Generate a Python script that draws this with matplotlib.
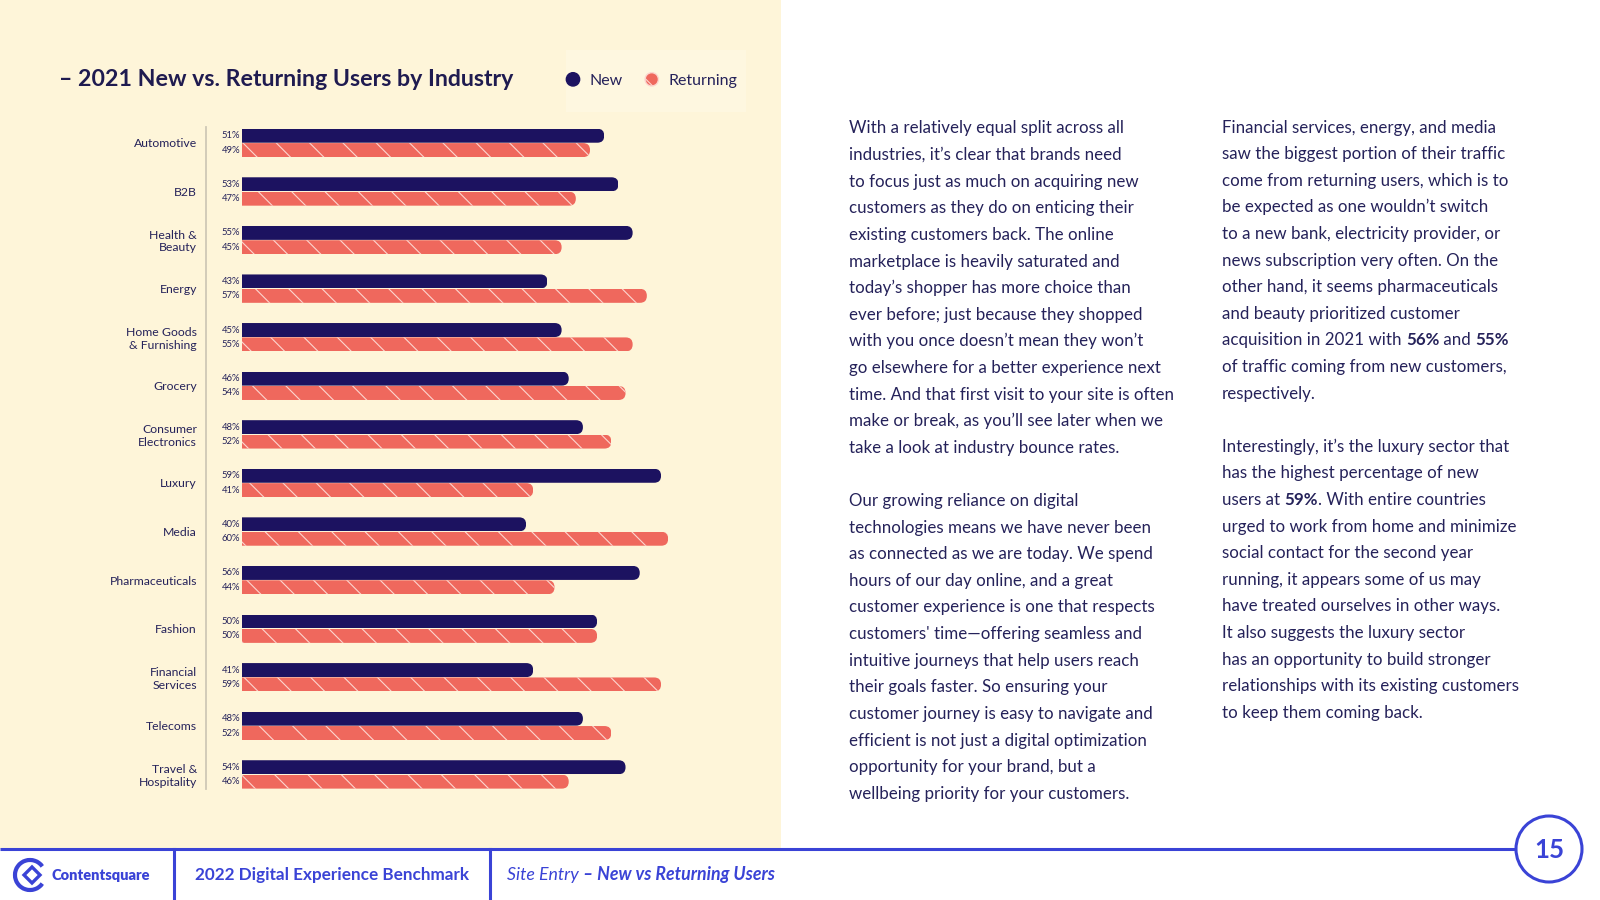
import numpy as np
import matplotlib
matplotlib.use("Agg")
import matplotlib.pyplot as plt
import matplotlib.patches as mpatches
from matplotlib.legend_handler import HandlerPatch

# chart data (top to bottom)
industries = ["Automotive", "B2B", "Health &\nBeauty", "Energy",
              "Home Goods\n& Furnishing", "Grocery", "Consumer\nElectronics",
              "Luxury", "Media", "Pharmaceuticals", "Fashion",
              "Financial\nServices", "Telecoms", "Travel &\nHospitality"]
new_users = [51, 53, 55, 43, 45, 46, 48, 59, 40, 56, 50, 41, 48, 54]
returning_users = [49, 47, 45, 57, 55, 54, 52, 41, 60, 44, 50, 59, 52, 46]

title = "– 2021 New vs. Returning Users by Industry"
legend_labels = ["New", "Returning"]

# page text, **...** marks bold
col1_lines = [
    "With a relatively equal split across all",
    "industries, it’s clear that brands need",
    "to focus just as much on acquiring new",
    "customers as they do on enticing their",
    "existing customers back. The online",
    "marketplace is heavily saturated and",
    "today’s shopper has more choice than",
    "ever before; just because they shopped",
    "with you once doesn’t mean they won’t",
    "go elsewhere for a better experience next",
    "time. And that first visit to your site is often",
    "make or break, as you’ll see later when we",
    "take a look at industry bounce rates.",
    "",
    "Our growing reliance on digital",
    "technologies means we have never been",
    "as connected as we are today. We spend",
    "hours of our day online, and a great",
    "customer experience is one that respects",
    "customers' time—offering seamless and",
    "intuitive journeys that help users reach",
    "their goals faster. So ensuring your",
    "customer journey is easy to navigate and",
    "efficient is not just a digital optimization",
    "opportunity for your brand, but a",
    "wellbeing priority for your customers.",
]
col2_lines = [
    "Financial services, energy, and media",
    "saw the biggest portion of their traffic",
    "come from returning users, which is to",
    "be expected as one wouldn’t switch",
    "to a new bank, electricity provider, or",
    "news subscription very often. On the",
    "other hand, it seems pharmaceuticals",
    "and beauty prioritized customer",
    "acquisition in 2021 with **56%** and **55%**",
    "of traffic coming from new customers,",
    "respectively.",
    "",
    "Interestingly, it’s the luxury sector that",
    "has the highest percentage of new",
    "users at **59%**. With entire countries",
    "urged to work from home and minimize",
    "social contact for the second year",
    "running, it appears some of us may",
    "have treated ourselves in other ways.",
    "It also suggests the luxury sector",
    "has an opportunity to build stronger",
    "relationships with its existing customers",
    "to keep them coming back.",
]

NAVY = "#1c1260"
CORAL = "#ef685d"
CREAM = "#fef5d9"
TEXT = "#25225a"
BLUE = "#3a43d6"
STRIPE = "#fcd6cf"
FONT = "Lato"

plt.rcParams["font.family"] = [FONT, "DejaVu Sans"]
plt.rcParams["hatch.linewidth"] = 0.8

fig = plt.figure(figsize=(16, 9), dpi=100)
fig.patch.set_facecolor("white")
renderer = fig.canvas.get_renderer()

# background layer in pixel units (y down)
bg = fig.add_axes([0, 0, 1, 1])
bg.set_xlim(0, 1600)
bg.set_ylim(900, 0)
bg.axis("off")

bg.add_patch(mpatches.Rectangle((0, 0), 781, 849, facecolor=CREAM, edgecolor="none"))
bg.add_patch(mpatches.Rectangle((566, 50), 180, 62, facecolor="#fef7e0", edgecolor="none"))


def fit_width(t, target):
    w = t.get_window_extent(renderer).width
    t.set_fontsize(t.get_fontsize() * target / w)
    return t


def text_width(s, size, weight="normal", style="normal"):
    t = bg.text(0, 0, s + ".", fontsize=size, fontweight=weight, fontstyle=style)
    d = bg.text(0, 0, ".", fontsize=size, fontweight=weight, fontstyle=style)
    w = t.get_window_extent(renderer).width - d.get_window_extent(renderer).width
    t.remove()
    d.remove()
    return w


# title
t = bg.text(59, 80, title, fontsize=17, fontweight="bold", color="#1f1b50",
            ha="left", va="center")
fit_width(t, 455)

# bar chart
ax = fig.add_axes([206 / 1600, 1 - 789 / 900, (720 - 206) / 1600, (789 - 127.5) / 900])
ax.patch.set_alpha(0)
ax.set_xlim(-5.07, 67.3)
ax.set_ylim(13.30, -0.317)

y = np.arange(len(industries))
bar_h = 0.288
off = 0.148
new_bars = ax.barh(y - off, new_users, height=bar_h, color=NAVY, linewidth=0)
ret_bars = ax.barh(y + off, returning_users, height=bar_h, color=CORAL,
                   hatch="\\", edgecolor=STRIPE, linewidth=0)

# rounded right ends
p0 = ax.transData.transform((0, 0))
p1 = ax.transData.transform((1, 1))
sx = abs(p1[0] - p0[0])
sy = abs(p1[1] - p0[1])
asp = sx / sy
r = 0.98 * (bar_h / asp) / 2
for bar in list(new_bars) + list(ret_bars):
    bx, by = bar.get_x(), bar.get_y()
    clip = mpatches.FancyBboxPatch((bx - 3, by), bar.get_width() + 3, bar.get_height(),
                                   boxstyle=f"round,pad=0,rounding_size={r}",
                                   mutation_aspect=asp, transform=ax.transData)
    bar.set_clip_path(clip)

for i in range(len(industries)):
    ax.text(-0.28, y[i] - off, f"{new_users[i]}%", ha="right", va="center",
            fontsize=6.8, color=TEXT)
    ax.text(-0.28, y[i] + off, f"{returning_users[i]}%", ha="right", va="center",
            fontsize=6.8, color=TEXT)

for side in ["top", "right", "bottom"]:
    ax.spines[side].set_visible(False)
ax.spines["left"].set_color("#cfc8b6")
ax.spines["left"].set_linewidth(1.3)
ax.set_xticks([])
ax.set_yticks(y)
ax.set_yticklabels(industries, fontsize=8.8, color=TEXT, linespacing=1.15)
ax.tick_params(axis="y", length=0, pad=6.5)


# legend with round markers
def make_circle(legend, orig_handle, xdescent, ydescent, width, height, fontsize):
    return mpatches.Circle((width / 2 - xdescent, height / 2 - ydescent), 4.8)


handles = [mpatches.Patch(facecolor=NAVY, edgecolor=NAVY, label=legend_labels[0]),
           mpatches.Patch(facecolor=CORAL, edgecolor=STRIPE, hatch="\\\\",
                          label=legend_labels[1])]
fig.legend(handles=handles, loc="center left", bbox_to_anchor=(565 / 1600, 1 - 80 / 900),
           ncol=2, frameon=False, fontsize=11.5, handlelength=1.0, handleheight=1.0,
           handletextpad=0.55, columnspacing=1.3, borderpad=0, borderaxespad=0,
           labelcolor=TEXT, handler_map={mpatches.Patch: HandlerPatch(patch_func=make_circle)})

# body text columns
ref = bg.text(0, 0, "time. And that first visit to your site is often", fontsize=11)
fit_width(ref, 321)
body_size = ref.get_fontsize()
ref.remove()


def draw_lines(lines, x0, y0, step):
    for k, line in enumerate(lines):
        if not line:
            continue
        xb = x0
        parts = line.split("**")
        for j, part in enumerate(parts):
            if not part:
                continue
            weight = "bold" if j % 2 == 1 else "normal"
            bg.text(xb, y0 + k * step + 5, part, fontsize=body_size, fontweight=weight,
                    color=TEXT, ha="left", va="baseline")
            xb += text_width(part, body_size, weight)


draw_lines(col1_lines, 849, 128.5, 26.61)
draw_lines(col2_lines, 1222, 127.5, 26.61)

# footer
bg.plot([0, 1516], [849, 849], color=BLUE, lw=2.2, solid_capstyle="butt")
bg.plot([173.5, 173.5], [849, 900], color=BLUE, lw=2.2)
bg.plot([490, 490], [849, 900], color=BLUE, lw=2.2)
bg.add_patch(mpatches.Circle((1549, 849), 33, facecolor="white", edgecolor=BLUE, lw=2.2))
n = bg.text(1549, 850, "15", fontsize=16, fontweight="bold", color=BLUE,
            ha="center", va="center")
fit_width(n, 30)

# logo
bg.add_patch(mpatches.Arc((30, 875), 30, 30, theta1=35, theta2=325, color=BLUE, lw=3))
bg.add_patch(mpatches.Polygon([(24, 875), (32, 867), (40, 875), (32, 883)], closed=True,
                              facecolor="none", edgecolor=BLUE, lw=2.4))
lg = bg.text(52, 875, "Contentsquare", fontsize=10, fontweight="heavy", color=BLUE,
             ha="left", va="center")
fit_width(lg, 99)

fb = bg.text(332, 875, "2022 Digital Experience Benchmark", fontsize=11, fontweight="bold",
             color=BLUE, ha="center", va="center")
fit_width(fb, 274)

# breadcrumb, sized to span 507..775 px
fs = fb.get_fontsize()
w1 = text_width("Site Entry ", fs, "normal", "italic")
w2 = text_width("– New vs Returning Users", fs, "bold", "italic")
fs = fs * 268 / (w1 + w2)
w1 = text_width("Site Entry ", fs, "normal", "italic")
bg.text(507, 880, "Site Entry", fontsize=fs, fontstyle="italic", color=BLUE,
        ha="left", va="baseline")
bg.text(507 + w1, 880, "– New vs Returning Users", fontsize=fs, fontstyle="italic",
        fontweight="bold", color=BLUE, ha="left", va="baseline")

fig.savefig("out.png", dpi=100, facecolor=fig.get_facecolor())
